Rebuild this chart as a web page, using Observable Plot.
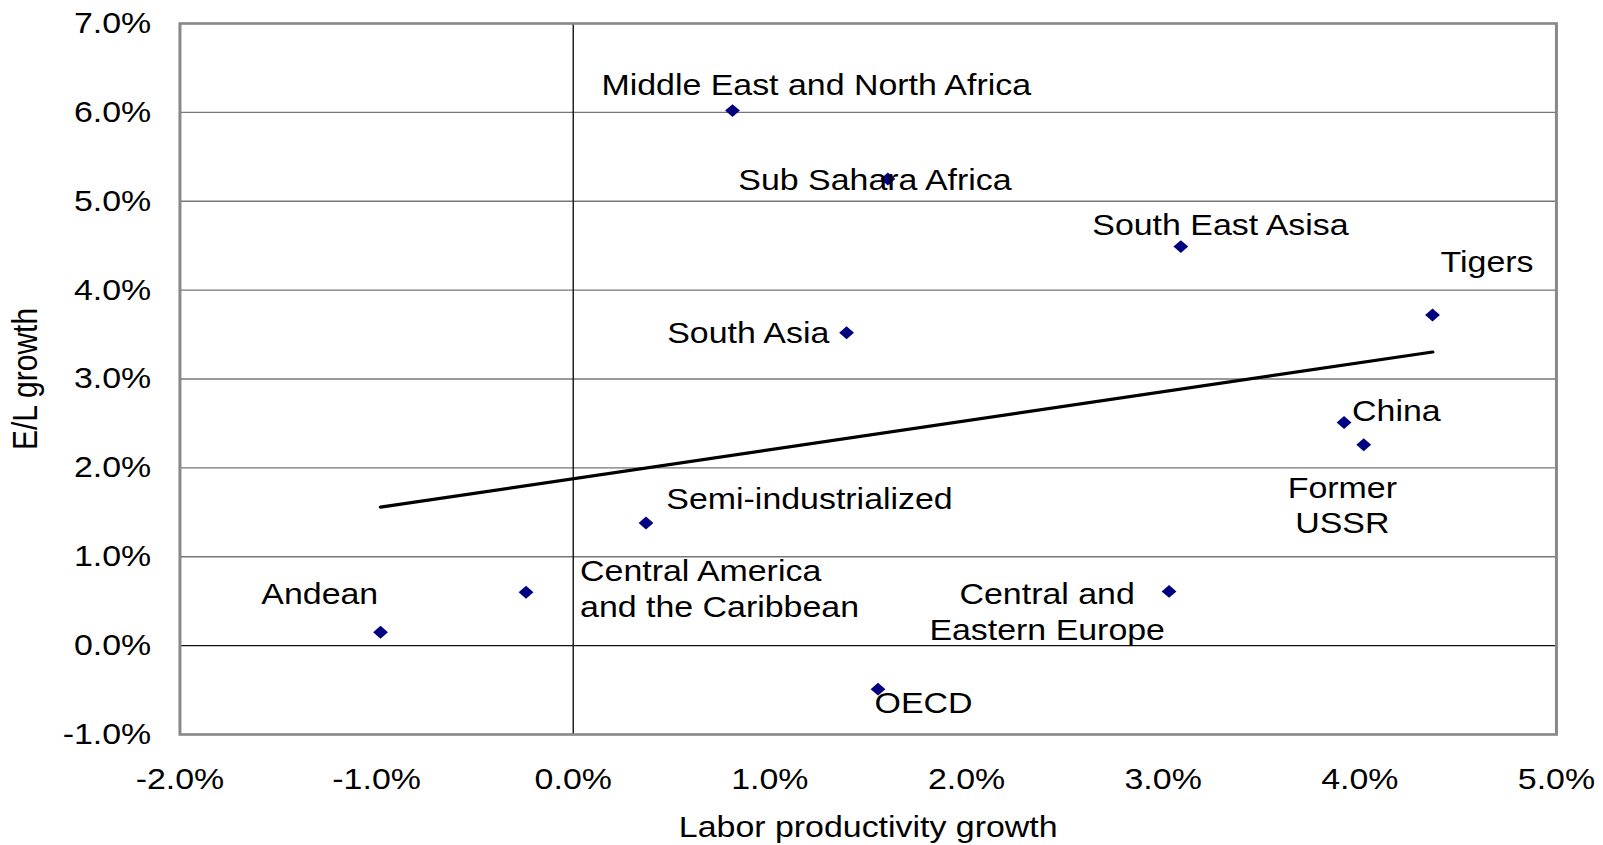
<!DOCTYPE html>
<html>
<head>
<meta charset="utf-8">
<script src="https://cdn.jsdelivr.net/npm/d3@7"></script>
<script src="https://cdn.jsdelivr.net/npm/@observablehq/plot@0.6"></script>
<style>
  html, body { margin: 0; padding: 0; background: #fff; }
  #chart svg { display: block; }
</style>
</head>
<body>
<div id="chart"></div>
<script>
// Regional growth rates (percent per year)
const regions = [
  "Middle East and North Africa",
  "Sub Sahara Africa",
  "South East Asisa",
  "Tigers",
  "South Asia",
  "China",
  "Former USSR",
  "Semi-industrialized",
  "Central America and the Caribbean",
  "Andean",
  "Central and Eastern Europe",
  "OECD"
];
const laborProductivityGrowth = [0.81, 1.60, 3.09, 4.37, 1.39, 3.92, 4.02, 0.37, -0.24, -0.98, 3.03, 1.55];
const elGrowth                = [6.02, 5.25, 4.49, 3.72, 3.52, 2.51, 2.26, 1.38, 0.60, 0.15, 0.61, -0.49];
const pointLabels = [
  "Middle East and North Africa",
  "Sub Sahara Africa",
  "South East Asisa",
  "Tigers",
  "South Asia",
  "China",
  "Former\nUSSR",
  "Semi-industrialized",
  "Central America\nand the Caribbean",
  "Andean",
  "Central and\nEastern Europe",
  "OECD"
];

const xTicks = [-2, -1, 0, 1, 2, 3, 4, 5];
const yTicks = [-1, 0, 1, 2, 3, 4, 5, 6, 7];
const xTitle = "Labor productivity growth";
const yTitle = "E/L growth";

// Label placement relative to each point: [textAnchor, dx, dy]
const labelPlacement = [
  ["start", -114, -27.5],
  ["start", -130, -0.5],
  ["start", -77, -23.5],
  ["start", 7, -54.5],
  ["end", -15, -1],
  ["start", 7, -13],
  ["middle", -18.6, 59.3],
  ["start", 17.7, -25.5],
  ["start", 47, -4.6],
  ["end", -2, -40],
  ["middle", -106, 19],
  ["start", -3, 12.5]
];

const points = regions.map((r, i) => ({
  region: r,
  x: laborProductivityGrowth[i],
  y: elGrowth[i],
  label: pointLabels[i]
}));

const pct = d => d.toFixed(1) + "%";
const FONT = 29.5;
const W = 1394, H = 845, STRETCH = 1603 / W;

const labelMarks = points.map((p, i) => Plot.text([p], {
  x: "x", y: "y", text: "label",
  textAnchor: labelPlacement[i][0],
  dx: labelPlacement[i][1],
  dy: labelPlacement[i][2],
  lineHeight: 1.21,
  fontSize: FONT,
  fill: "#000"
}));

const svg = Plot.plot({
  width: W,
  height: H,
  marginLeft: 156,
  marginRight: 41,
  marginTop: 23,
  marginBottom: 111,
  style: { fontFamily: "'Liberation Sans', Arial, sans-serif", fontSize: FONT + "px", color: "#000", background: "#fff" },
  x: { domain: [-2, 5], ticks: xTicks, tickFormat: pct, tickSize: 0, tickPadding: 34, label: null },
  y: { domain: [-1, 7], ticks: yTicks, tickFormat: pct, tickSize: 0, tickPadding: 25, label: null },
  marks: [
    Plot.ruleY(yTicks.filter(v => v > -1 && v < 7 && v !== 0), { stroke: "#777", strokeWidth: 1.3 }),
    Plot.ruleY([0], { stroke: "#111", strokeWidth: 1.3 }),
    Plot.ruleX([0], { stroke: "#111", strokeWidth: 1.2 }),
    Plot.frame({ stroke: "#888", strokeWidth: 2.6 }),
    Plot.linearRegressionY(points, { x: "x", y: "y", ci: 0, stroke: "#000", strokeWidth: 3.2 }),
    Plot.dot(points, { x: "x", y: "y", symbol: "diamond2", r: 5.8, fill: "#000080", stroke: "none" }),
    ...labelMarks,
    Plot.text([xTitle], { text: d => d, frameAnchor: "bottom", dy: 102, fontSize: FONT, fill: "#000" }),
    Plot.text([yTitle], { text: d => d, frameAnchor: "left", textAnchor: "middle", rotate: -90, dx: -134, fontSize: 30, fill: "#000" })
  ]
});

// Draw the chart slightly wider than its layout box
svg.setAttribute("width", Math.round(W * STRETCH));
svg.setAttribute("height", H);
svg.setAttribute("preserveAspectRatio", "none");
svg.style.width = Math.round(W * STRETCH) + "px";
svg.style.height = H + "px";
svg.style.maxWidth = "none";
document.getElementById("chart").appendChild(svg);
</script>
</body>
</html>
